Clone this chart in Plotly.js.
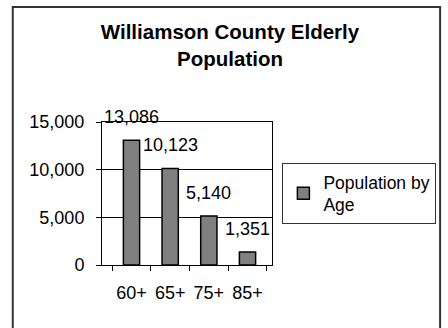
<!DOCTYPE html>
<html>
<head>
<meta charset="utf-8">
<script src="https://cdn.plot.ly/plotly-3.0.1.min.js"></script>
<style>html,body{margin:0;padding:0;background:#fff;}#chart{width:448px;height:328px;}</style>
</head>
<body>
<div id="chart"></div>
<script>
const categories = ["60+", "65+", "75+", "85+"];
const population = [13086, 10123, 5140, 1351];
const valueLabels = ["13,086", "10,123", "5,140", "1,351"];
const yTicks = [0, 5000, 10000, 15000];
const yTickText = ["0", "5,000", "10,000", "15,000"];

const W = 448, H = 328;
const L = 102, R = 166, T = 122, B = 63;
const pw = W - L - R, ph = H - T - B;
const px = v => (v - L) / pw;
const py = v => (H - B - v) / ph;

const font = "Liberation Sans, Arial, sans-serif";

const trace = {
  type: "bar",
  x: categories,
  y: population,
  name: "Population by<br>Age",
  marker: {color: "#808080", line: {color: "#000000", width: 1.5}},
  hoverinfo: "none"
};

const annotations = categories.map((c, i) => ({
  x: c, y: population[i], xref: "x", yref: "y",
  text: valueLabels[i], showarrow: false,
  yanchor: "middle", xanchor: "center", yshift: 23,
  font: {family: font, size: 18, color: "#000"}
}));

const layout = {
  width: W, height: H,
  margin: {l: L, r: R, t: T, b: B, pad: 0},
  paper_bgcolor: "#ffffff",
  plot_bgcolor: "#ffffff",
  font: {family: font, size: 18, color: "#000"},
  title: {
    text: "<b>Williamson County Elderly<br>Population</b>",
    font: {family: font, size: 20.5, color: "#000"},
    x: 230 / W, xref: "container", xanchor: "center",
    y: 1 - 39 / H, yref: "container", yanchor: "top"
  },
  bargap: 0.58,
  showlegend: true,
  legend: {
    x: px(293), y: py(163), xanchor: "left", yanchor: "top",
    xref: "paper", yref: "paper",
    bgcolor: "#ffffff", bordercolor: "#333333", borderwidth: 1,
    font: {family: font, size: 17.5, color: "#000"},
    itemwidth: 30
  },
  xaxis: {
    type: "category",
    showline: true, linecolor: "#000", linewidth: 1, mirror: true,
    ticks: "outside", tickson: "boundaries", ticklen: 5, tickcolor: "#000",
    showgrid: false, zeroline: false,
    tickangle: 0,
    ticklabelstandoff: 11,
    tickfont: {family: font, size: 18, color: "#000"},
    fixedrange: true
  },
  yaxis: {
    range: [0, 15000],
    tickvals: yTicks, ticktext: yTickText,
    showline: true, linecolor: "#000", linewidth: 1, mirror: true,
    ticks: "outside", ticklen: 5, tickcolor: "#000",
    showgrid: true, gridcolor: "#000", gridwidth: 1,
    zeroline: false,
    ticklabelstandoff: 8,
    tickfont: {family: font, size: 18, color: "#000"},
    fixedrange: true
  },
  annotations: annotations,
  shapes: [
    {type: "rect", xref: "paper", yref: "paper",
     x0: px(7.5), x1: px(460), y0: py(340), y1: py(7),
     line: {color: "#333", width: 2}, fillcolor: "rgba(0,0,0,0)", layer: "below"}
  ]
};

Plotly.newPlot("chart", [trace], layout, {displayModeBar: false, staticPlot: true});
</script>
</body>
</html>
